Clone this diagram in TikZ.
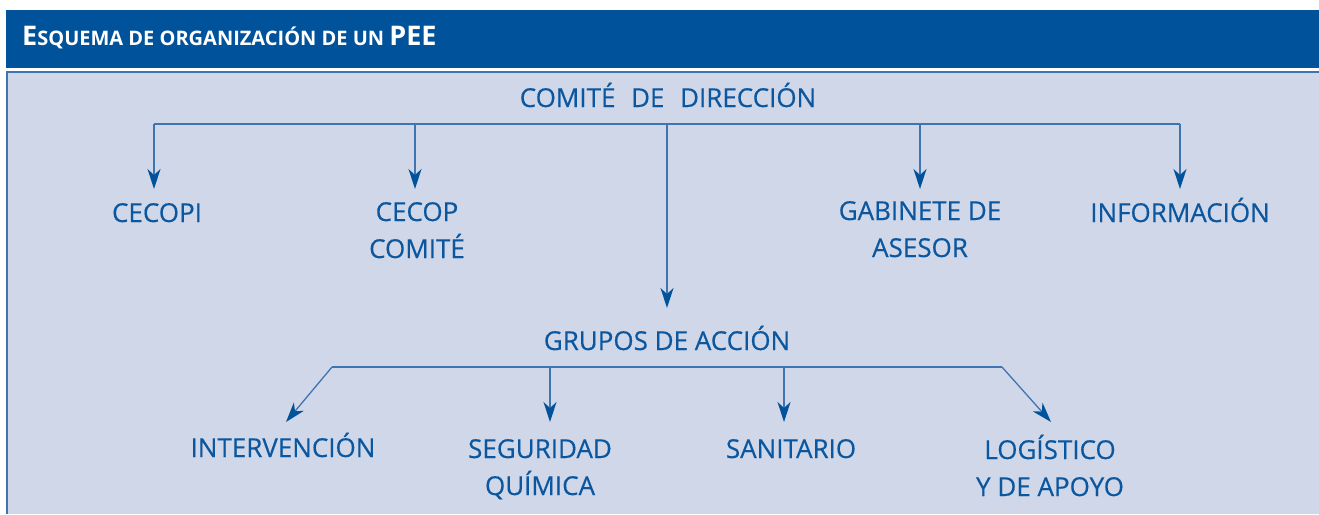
\documentclass[tikz,border=0pt]{standalone}
\usepackage{fontspec}
\setmainfont{Open Sans}
\usetikzlibrary{arrows.meta}
\definecolor{hdr}{HTML}{00529B}
\definecolor{pnl}{HTML}{D0D7E9}
\definecolor{txt}{HTML}{0B579F}
\definecolor{ln}{HTML}{3F74B3}
\begin{document}
\begin{tikzpicture}[x=1pt,y=-1pt,
  lbl/.style={text=txt, font=\addfontfeatures{FakeBold=0.4}\fontsize{26}{37}\selectfont, align=center, inner sep=0pt, anchor=base},
  ttl/.style={text=white, font=\bfseries, inner sep=0pt, anchor=base west},
  conn/.style={draw=ln, line width=1.3pt},
  arr/.style={conn, -{Stealth[length=20pt,width=13pt,inset=6pt,color=hdr]}}]
\useasboundingbox (0,0) rectangle (1319,514);
\fill[white] (0,0) rectangle (1319,514);
\fill[hdr] (6,10) rectangle (1319,68);
\fill[pnl] (6,71) rectangle (1319,514);
\draw[ln, line width=1.5pt] (1319,72) -- (6.75,72) -- (6.75,514);
% title
\node[ttl] (title) at (22,45) {\fontsize{27}{27}\selectfont E\fontsize{20}{22}\selectfont SQUEMA DE ORGANIZACIÓN DE UN \fontsize{27}{27}\selectfont PEE};
% nodes
\node[lbl] (root) at (668,107) {COMITÉ\hspace{0.6em}DE\hspace{0.6em}DIRECCIÓN};
\node[lbl] (cecopi) at (157,222) {CECOPI};
\node[lbl] (cecop) at (417,258) {CECOP\\COMITÉ};
\node[lbl] (gab) at (920,257) {GABINETE DE\\ASESOR};
\node[lbl] (info) at (1180,222) {INFORMACIÓN};
\node[lbl] (grupos) at (667,350) {GRUPOS DE ACCIÓN};
\node[lbl] (interv) at (283,457) {INTERVENCIÓN};
\node[lbl] (seg) at (540,495) {SEGURIDAD\\QUÍMICA};
\node[lbl] (sanit) at (791,458) {SANITARIO};
\node[lbl] (logis) at (1050,496) {LOGÍSTICO\\Y DE APOYO};
% bus coordinates
\coordinate (b1L) at (154,124);
\coordinate (b1R) at (1180,124);
\coordinate (r1) at (0,189);
\coordinate (rg) at (0,308);
\coordinate (b2L) at (332,367);
\coordinate (b2R) at (1002,367);
\coordinate (r2) at (0,422);
% level 1
\draw[conn] (b1L) -- (b1R);
\draw[arr] (b1L) -- (b1L |- r1);
\draw[arr] ([xshift=-2pt]cecop.center |- b1L) -- ([xshift=-2pt]cecop.center |- r1);
\draw[arr] (gab.center |- b1L) -- (gab.center |- r1);
\draw[arr] (b1R) -- (info.center |- r1);
\draw[arr] ([xshift=-1pt]root.center |- b1L) -- ([xshift=-1pt]root.center |- rg);
% level 2
\draw[conn] (b2L) -- (b2R);
\draw[arr] (b2L) -- ([xshift=3pt]interv.center |- r2);
\draw[arr] ([xshift=10pt]seg.center |- b2L) -- ([xshift=10pt]seg.center |- r2);
\draw[arr] ([xshift=-7pt]sanit.center |- b2L) -- ([xshift=-7pt]sanit.center |- r2);
\draw[arr] (b2R) -- ([xshift=1pt]logis.center |- r2);
\end{tikzpicture}
\end{document}
